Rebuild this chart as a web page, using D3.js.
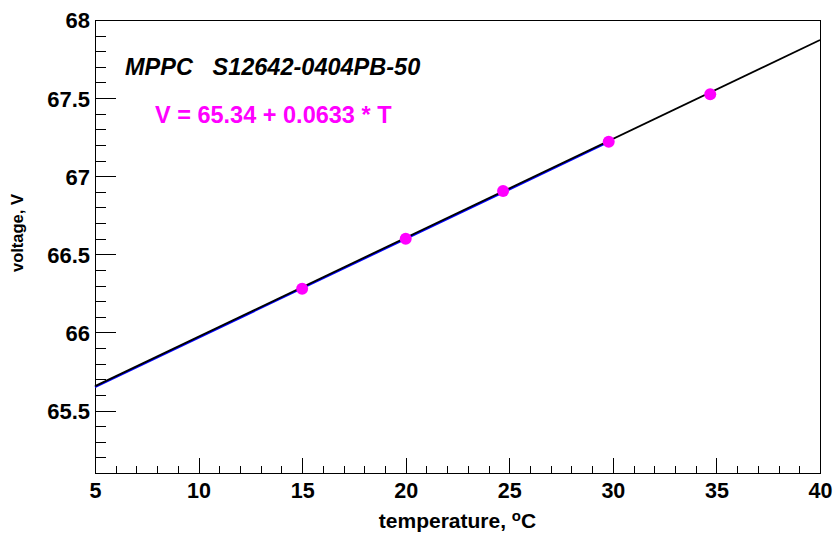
<!DOCTYPE html>
<html>
<head>
<meta charset="utf-8">
<script src="https://cdn.jsdelivr.net/npm/d3@7"></script>
<style>
  body { margin: 0; background: #fff; }
  svg { display: block; font-family: "Liberation Sans", Arial, Helvetica, sans-serif; }
  .axis path, .axis line { stroke: #000; shape-rendering: crispEdges; }
  .axis text { fill: #000; font-weight: bold; }
</style>
</head>
<body>
<div id="chart"></div>
<script>
(function(d3) {
    "use strict";

    // measured points
    var temperature = [15, 20, 24.7, 29.8, 34.7];
    var voltage = [66.28, 66.60, 66.905, 67.22, 67.525];

    // fit V = a + b*T (from the label), plus the shorter blue fit drawn under it
    var fitBlack = {a: 65.34, b: 0.0633, from: 5, to: 40};
    var fitBlue = {a: 65.333, b: 0.0633, from: 5, to: 29.6};

    var xDomain = [5, 40],
        yDomain = [65.1, 68];
    var xMajor = [5, 10, 15, 20, 25, 30, 35, 40];
    var yMajor = [65.5, 66, 66.5, 67, 67.5, 68];

    var titleText = "MPPC   S12642-0404PB-50";
    var fitText = "V = 65.34 + 0.0633 * T";

    var width = 834, height = 535;
    var frame = {left: 95, right: 820, top: 20, bottom: 473};

    var x = d3.scaleLinear().domain(xDomain).range([frame.left, frame.right]);
    var y = d3.scaleLinear().domain(yDomain).range([frame.bottom, frame.top]);

    var svg = d3.select("#chart").append("svg")
        .attr("width", width)
        .attr("height", height);

    // frame
    svg.append("rect")
        .attr("x", frame.left + 0.5)
        .attr("y", frame.top + 0.5)
        .attr("width", frame.right - frame.left)
        .attr("height", frame.bottom - frame.top)
        .attr("fill", "none")
        .attr("stroke", "#000")
        .attr("stroke-width", 1)
        .attr("shape-rendering", "crispEdges");

    // minor ticks (every 1 on x, every 0.1 on y)
    var xMinor = d3.range(xDomain[0], xDomain[1] + 0.001, 1).filter(function(v) { return v % 5 !== 0; });
    var yMinor = d3.range(651, 681, 1).map(function(v) { return v / 10; })
        .filter(function(v) { return Math.round(v * 10) % 5 !== 0; });

    svg.append("g")
        .attr("class", "axis")
        .attr("transform", "translate(0," + frame.bottom + ")")
        .call(d3.axisBottom(x).tickValues(xMinor).tickSize(-7.5).tickSizeOuter(0).tickFormat(""))
        .call(function(g) { g.select(".domain").remove(); });

    svg.append("g")
        .attr("class", "axis")
        .attr("transform", "translate(" + frame.left + ",0)")
        .call(d3.axisLeft(y).tickValues(yMinor).tickSize(-10.5).tickSizeOuter(0).tickFormat(""))
        .call(function(g) { g.select(".domain").remove(); });

    // major ticks + labels
    svg.append("g")
        .attr("class", "axis")
        .attr("transform", "translate(0," + frame.bottom + ")")
        .call(d3.axisBottom(x).tickValues(xMajor).tickSize(-15).tickSizeOuter(0).tickPadding(10).tickFormat(d3.format("d")))
        .call(function(g) {
            g.select(".domain").remove();
            g.selectAll("text").attr("font-size", 21.5).attr("dy", "0.71em");
        });

    svg.append("g")
        .attr("class", "axis")
        .attr("transform", "translate(" + frame.left + ",0)")
        .call(d3.axisLeft(y).tickValues(yMajor).tickSize(-21).tickSizeOuter(0).tickPadding(5).tickFormat(d3.format("")))
        .call(function(g) {
            g.select(".domain").remove();
            g.selectAll("text").attr("font-size", 22).attr("dy", "0.36em");
        });

    // axis titles
    var xTitle = svg.append("text")
        .attr("x", (frame.left + frame.right) / 2)
        .attr("y", 528)
        .attr("text-anchor", "middle")
        .attr("font-size", 21)
        .attr("font-weight", "bold")
        .text("temperature, ");
    xTitle.append("tspan")
        .attr("dy", -7)
        .attr("font-size", 15)
        .text("o");
    xTitle.append("tspan")
        .attr("dy", 7)
        .text("C");

    svg.append("text")
        .attr("transform", "translate(23,233) rotate(-90)")
        .attr("text-anchor", "middle")
        .attr("font-size", 16.5)
        .attr("font-weight", "bold")
        .text("voltage, V");

    // fit lines
    function fitLine(f) {
        return [[f.from, f.a + f.b * f.from], [f.to, f.a + f.b * f.to]];
    }
    var line = d3.line()
        .x(function(d) { return x(d[0]); })
        .y(function(d) { return y(d[1]); });

    svg.append("path")
        .datum(fitLine(fitBlue))
        .attr("d", line)
        .attr("fill", "none")
        .attr("stroke", "#0000ff")
        .attr("stroke-width", 2);

    svg.append("path")
        .datum(fitLine(fitBlack))
        .attr("d", line)
        .attr("fill", "none")
        .attr("stroke", "#000")
        .attr("stroke-width", 1.8);

    // data points
    svg.append("g")
        .selectAll("circle")
        .data(d3.zip(temperature, voltage))
        .join("circle")
        .attr("cx", function(d) { return x(d[0]); })
        .attr("cy", function(d) { return y(d[1]); })
        .attr("r", 6)
        .attr("fill", "#ff00ff");

    // labels
    svg.append("text")
        .attr("x", 125)
        .attr("y", 75)
        .attr("font-size", 23.5)
        .attr("font-weight", "bold")
        .attr("font-style", "italic")
        .style("white-space", "pre")
        .text(titleText);

    svg.append("text")
        .attr("x", 155)
        .attr("y", 123)
        .attr("font-size", 23.5)
        .attr("font-weight", "bold")
        .attr("fill", "#ff00ff")
        .text(fitText);

})(d3);
</script>
</body>
</html>
